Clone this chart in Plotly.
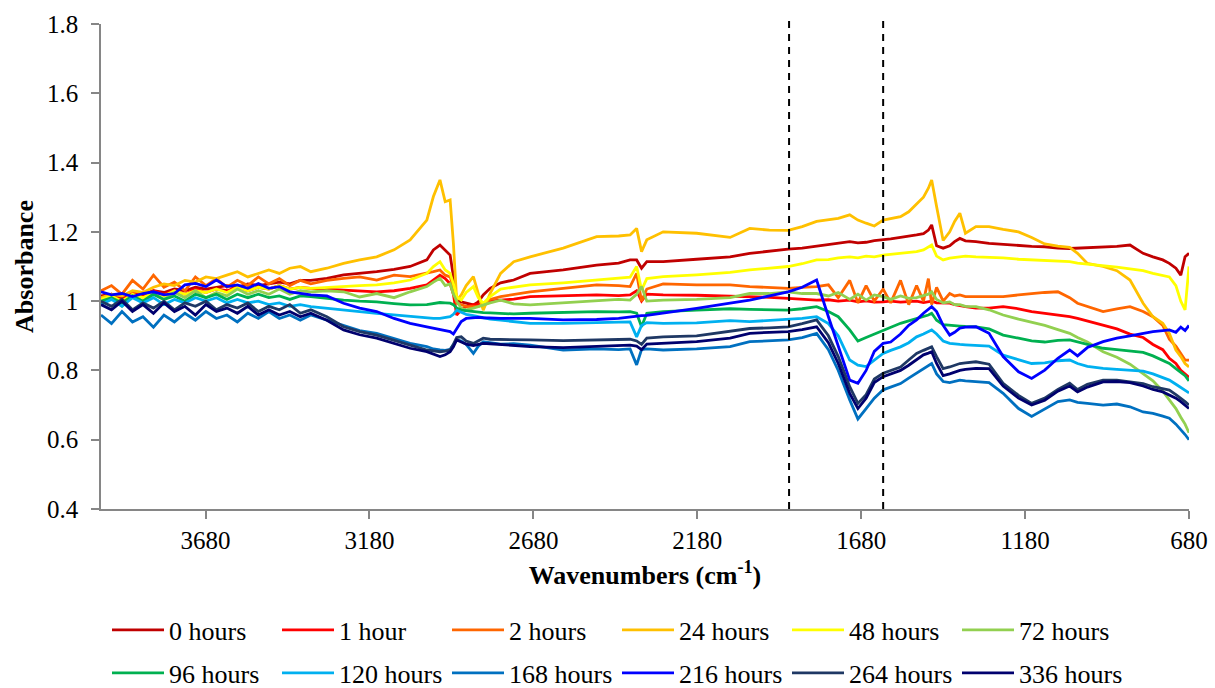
import plotly.graph_objects as go

# ---------------- data ----------------
wavenumbers = [
    3999, 3967, 3935, 3903, 3871, 3839, 3807, 3775, 3743, 3711, 3679, 3647, 3615, 3583, 3551, 3519, 3487, 3455, 3423, 3391, 3359,
    3310, 3259, 3210, 3158, 3105, 3056, 3005, 2985, 2965, 2949, 2934, 2924, 2914, 2900, 2885, 2863, 2848, 2833, 2812, 2780, 2740, 2690,
    2589, 2487, 2420, 2385, 2365, 2350, 2334, 2284, 2182, 2080, 2020,
    1960, 1903, 1860, 1816, 1780, 1750, 1715, 1690, 1665, 1640, 1613, 1590, 1560, 1535, 1511, 1490, 1475, 1465, 1450, 1430, 1410, 1395, 1379, 1362, 1330,
    1290, 1247, 1200, 1160, 1120, 1080, 1044, 1020, 990, 942, 900, 860, 820, 790, 760, 740, 720, 705, 692, 680,
]

series_names = ["0 hours", "1 hour", "2 hours", "24 hours", "48 hours", "72 hours",
                "96 hours", "120 hours", "168 hours", "216 hours", "264 hours", "336 hours"]

abs_0h = [
    1.015, 1.020, 1.010, 1.025, 1.020, 1.030, 1.025, 1.035, 1.030, 1.040, 1.035, 1.040, 1.045, 1.040, 1.050, 1.045, 1.050, 1.055, 1.050, 1.060, 1.060,
    1.066, 1.076, 1.080, 1.085, 1.092, 1.100, 1.119, 1.148, 1.162, 1.146, 1.133, 1.071, 1.003, 0.998, 0.994, 0.989, 0.998, 1.018, 1.037, 1.053, 1.061, 1.080,
    1.090, 1.104, 1.110, 1.119, 1.119, 1.095, 1.114, 1.114, 1.121, 1.128, 1.138,
    1.145, 1.150, 1.153, 1.159, 1.162, 1.166, 1.172, 1.168, 1.170, 1.175, 1.177, 1.180, 1.184, 1.187, 1.191, 1.195, 1.205, 1.220, 1.160, 1.153, 1.160, 1.172, 1.181, 1.174, 1.172,
    1.167, 1.164, 1.160, 1.158, 1.157, 1.153, 1.152, 1.153, 1.155, 1.155, 1.158, 1.162, 1.138, 1.128, 1.119, 1.109, 1.095, 1.075, 1.128, 1.138,
]
abs_1h = [
    1.010, 1.020, 1.005, 1.025, 1.015, 1.030, 1.020, 1.030, 1.020, 1.035, 1.025, 1.035, 1.030, 1.040, 1.030, 1.040, 1.035, 1.045, 1.035, 1.040, 1.037,
    1.035, 1.032, 1.030, 1.027, 1.030, 1.037, 1.047, 1.060, 1.075, 1.065, 1.050, 1.020, 0.960, 0.975, 0.984, 0.990, 0.990, 0.994, 1.000, 1.003, 1.006, 1.013,
    1.015, 1.018, 1.016, 1.018, 1.030, 1.000, 1.020, 1.018, 1.017, 1.015, 1.013,
    1.011, 1.008, 1.006, 1.003, 1.004, 1.000, 1.003, 0.998, 1.001, 0.997, 0.998, 1.000, 0.997, 0.999, 1.000, 0.996, 0.998, 1.000, 0.995, 0.994, 0.994, 0.990, 0.987, 0.984, 0.980,
    0.980, 0.984, 0.978, 0.970, 0.965, 0.960, 0.955, 0.950, 0.943, 0.931, 0.920, 0.905, 0.895, 0.875, 0.860, 0.835, 0.820, 0.800, 0.790, 0.780,
]
abs_2h = [
    1.030, 1.045, 1.020, 1.060, 1.035, 1.075, 1.040, 1.055, 1.030, 1.070, 1.045, 1.065, 1.040, 1.060, 1.045, 1.070, 1.050, 1.065, 1.045, 1.060, 1.050,
    1.060, 1.066, 1.070, 1.061, 1.075, 1.071, 1.080, 1.085, 1.090, 1.075, 1.070, 1.040, 0.994, 0.990, 0.985, 0.984, 0.985, 0.990, 1.005, 1.013, 1.020, 1.027,
    1.037, 1.047, 1.045, 1.042, 1.080, 1.000, 1.035, 1.050, 1.047, 1.047, 1.042,
    1.040, 1.037, 1.040, 1.042, 1.047, 1.010, 1.060, 0.995, 1.045, 1.000, 1.035, 0.995, 1.060, 0.990, 1.045, 1.000, 1.065, 0.990, 1.040, 1.000, 1.022, 1.015, 1.018, 1.013, 1.013,
    1.013, 1.013, 1.018, 1.022, 1.025, 1.027, 1.010, 0.994, 0.985, 0.970, 0.978, 0.984, 0.970, 0.955, 0.930, 0.890, 0.870, 0.850, 0.830, 0.830,
]
abs_24h = [
    1.010, 1.020, 1.015, 1.030, 1.025, 1.040, 1.050, 1.045, 1.060, 1.055, 1.070, 1.065, 1.075, 1.085, 1.070, 1.080, 1.090, 1.080, 1.095, 1.100, 1.085,
    1.095, 1.109, 1.119, 1.128, 1.148, 1.177, 1.234, 1.302, 1.350, 1.287, 1.292, 1.167, 1.003, 1.018, 1.045, 1.071, 1.022, 0.974, 1.022, 1.080, 1.114, 1.128,
    1.153, 1.186, 1.188, 1.191, 1.210, 1.143, 1.177, 1.200, 1.196, 1.184, 1.210,
    1.205, 1.204, 1.215, 1.230, 1.234, 1.239, 1.249, 1.234, 1.225, 1.217, 1.234, 1.239, 1.244, 1.258, 1.282, 1.300, 1.326, 1.350, 1.273, 1.175, 1.200, 1.230, 1.254, 1.196, 1.215,
    1.215, 1.207, 1.200, 1.184, 1.165, 1.159, 1.155, 1.138, 1.109, 1.100, 1.088, 1.061, 0.994, 0.955, 0.936, 0.907, 0.859, 0.840, 0.820, 0.810,
]
abs_48h = [
    1.005, 1.015, 1.000, 1.020, 1.010, 1.025, 1.015, 1.030, 1.020, 1.030, 1.025, 1.035, 1.025, 1.040, 1.030, 1.040, 1.035, 1.045, 1.035, 1.040, 1.037,
    1.040, 1.042, 1.045, 1.047, 1.053, 1.061, 1.080, 1.100, 1.114, 1.090, 1.080, 1.050, 1.013, 1.003, 1.025, 1.042, 1.010, 0.994, 1.013, 1.035, 1.040, 1.047,
    1.053, 1.061, 1.065, 1.069, 1.100, 1.032, 1.065, 1.071, 1.076, 1.083, 1.090,
    1.095, 1.100, 1.108, 1.119, 1.120, 1.125, 1.128, 1.125, 1.130, 1.128, 1.133, 1.135, 1.138, 1.140, 1.143, 1.148, 1.155, 1.162, 1.130, 1.119, 1.124, 1.126, 1.128, 1.130, 1.128,
    1.127, 1.125, 1.121, 1.119, 1.118, 1.116, 1.114, 1.110, 1.107, 1.104, 1.098, 1.093, 1.088, 1.080, 1.075, 1.070, 1.045, 1.000, 0.975, 1.100,
]
abs_72h = [
    0.990, 1.010, 0.985, 1.015, 1.000, 1.020, 1.005, 1.025, 1.010, 1.030, 1.010, 1.025, 1.015, 1.035, 1.020, 1.030, 1.020, 1.035, 1.020, 1.030, 1.027,
    1.030, 1.027, 1.012, 1.022, 1.010, 1.027, 1.042, 1.055, 1.066, 1.045, 1.050, 1.020, 1.000, 0.979, 0.975, 0.980, 0.985, 0.990, 0.995, 1.003, 0.992, 0.989,
    0.995, 0.999, 1.005, 1.003, 1.020, 1.042, 1.000, 1.003, 1.005, 1.010, 1.022,
    1.022, 1.027, 1.022, 1.022, 1.015, 1.025, 1.005, 1.020, 1.003, 1.018, 1.013, 1.005, 1.015, 1.008, 1.010, 1.015, 1.020, 1.027, 1.005, 0.995, 0.998, 0.990, 0.990, 0.985, 0.984,
    0.975, 0.960, 0.948, 0.940, 0.930, 0.918, 0.907, 0.895, 0.882, 0.854, 0.838, 0.818, 0.790, 0.770, 0.740, 0.715, 0.690, 0.665, 0.645, 0.620,
]
abs_96h = [
    1.000, 1.010, 0.995, 1.015, 1.000, 1.020, 1.005, 1.015, 1.000, 1.020, 1.010, 1.020, 1.005, 1.020, 1.010, 1.020, 1.010, 1.015, 1.005, 1.015, 1.013,
    1.008, 1.003, 1.000, 0.998, 0.993, 0.989, 0.990, 0.994, 0.996, 0.995, 0.994, 0.990, 0.980, 0.974, 0.972, 0.970, 0.968, 0.967, 0.966, 0.965, 0.963, 0.965,
    0.967, 0.970, 0.969, 0.970, 0.965, 0.926, 0.965, 0.970, 0.974, 0.978, 0.976,
    0.975, 0.974, 0.978, 0.984, 0.970, 0.955, 0.917, 0.885, 0.895, 0.905, 0.917, 0.926, 0.936, 0.943, 0.950, 0.955, 0.960, 0.965, 0.945, 0.932, 0.930, 0.928, 0.928, 0.927, 0.926,
    0.920, 0.902, 0.893, 0.885, 0.882, 0.887, 0.888, 0.882, 0.875, 0.864, 0.860, 0.856, 0.852, 0.842, 0.828, 0.820, 0.805, 0.795, 0.785, 0.770,
]
abs_120h = [
    0.990, 1.005, 0.985, 1.010, 0.995, 1.010, 0.990, 1.005, 0.995, 1.010, 1.000, 1.010, 0.995, 1.005, 0.995, 1.000, 0.990, 0.995, 0.985, 0.990, 0.984,
    0.980, 0.974, 0.970, 0.965, 0.960, 0.955, 0.952, 0.950, 0.950, 0.952, 0.955, 0.962, 0.974, 0.968, 0.962, 0.958, 0.955, 0.952, 0.948, 0.945, 0.941, 0.936,
    0.936, 0.938, 0.939, 0.940, 0.897, 0.930, 0.938, 0.936, 0.937, 0.944, 0.941,
    0.944, 0.946, 0.950, 0.955, 0.935, 0.900, 0.830, 0.815, 0.811, 0.830, 0.849, 0.858, 0.868, 0.880, 0.897, 0.905, 0.912, 0.917, 0.905, 0.885, 0.878, 0.876, 0.875, 0.874, 0.873,
    0.870, 0.844, 0.830, 0.820, 0.822, 0.828, 0.830, 0.820, 0.812, 0.806, 0.803, 0.800, 0.798, 0.790, 0.780, 0.772, 0.760, 0.750, 0.742, 0.735,
]
abs_168h = [
    0.960, 0.935, 0.970, 0.940, 0.955, 0.925, 0.960, 0.940, 0.965, 0.945, 0.970, 0.950, 0.960, 0.940, 0.965, 0.950, 0.970, 0.950, 0.960, 0.945, 0.960,
    0.945, 0.931, 0.915, 0.907, 0.893, 0.878, 0.869, 0.862, 0.859, 0.858, 0.861, 0.875, 0.888, 0.885, 0.875, 0.849, 0.870, 0.883, 0.880, 0.876, 0.877, 0.873,
    0.859, 0.862, 0.860, 0.862, 0.816, 0.860, 0.862, 0.859, 0.862, 0.869, 0.883,
    0.885, 0.888, 0.895, 0.907, 0.860, 0.800, 0.715, 0.660, 0.690, 0.720, 0.744, 0.752, 0.762, 0.778, 0.792, 0.805, 0.815, 0.820, 0.790, 0.768, 0.765, 0.768, 0.772, 0.770, 0.767,
    0.765, 0.734, 0.690, 0.667, 0.688, 0.710, 0.715, 0.708, 0.705, 0.700, 0.703, 0.695, 0.680, 0.676, 0.668, 0.662, 0.645, 0.630, 0.615, 0.600,
]
abs_216h = [
    1.027, 1.018, 1.022, 1.013, 1.022, 1.027, 1.018, 1.022, 1.047, 1.051, 1.042, 1.061, 1.042, 1.047, 1.037, 1.051, 1.037, 1.042, 1.027, 1.022, 1.018,
    1.015, 0.994, 0.980, 0.970, 0.950, 0.936, 0.926, 0.922, 0.918, 0.915, 0.912, 0.905, 0.920, 0.941, 0.950, 0.952, 0.953, 0.952, 0.951, 0.950, 0.950, 0.950,
    0.946, 0.947, 0.950, 0.955, 0.956, 0.958, 0.959, 0.965, 0.979, 0.994, 1.003,
    1.015, 1.027, 1.040, 1.061, 0.955, 0.868, 0.772, 0.763, 0.800, 0.855, 0.878, 0.882, 0.905, 0.930, 0.946, 0.965, 0.976, 0.984, 0.970, 0.930, 0.902, 0.910, 0.922, 0.925, 0.926,
    0.907, 0.840, 0.796, 0.777, 0.801, 0.835, 0.859, 0.842, 0.866, 0.883, 0.893, 0.900, 0.908, 0.912, 0.915, 0.917, 0.910, 0.925, 0.915, 0.930,
]
abs_264h = [
    1.000, 0.985, 1.005, 0.975, 0.995, 0.980, 1.000, 0.975, 0.995, 0.985, 1.000, 0.975, 0.990, 0.980, 0.995, 0.970, 0.985, 0.975, 0.990, 0.965, 0.975,
    0.955, 0.926, 0.912, 0.902, 0.888, 0.873, 0.859, 0.856, 0.854, 0.856, 0.859, 0.875, 0.895, 0.897, 0.885, 0.878, 0.885, 0.893, 0.890, 0.889, 0.888, 0.888,
    0.886, 0.888, 0.889, 0.890, 0.885, 0.875, 0.893, 0.897, 0.900, 0.912, 0.921,
    0.923, 0.926, 0.935, 0.946, 0.900, 0.840, 0.753, 0.705, 0.730, 0.775, 0.792, 0.800, 0.810, 0.830, 0.849, 0.858, 0.865, 0.868, 0.840, 0.805, 0.810, 0.815, 0.820, 0.822, 0.825,
    0.818, 0.763, 0.728, 0.705, 0.720, 0.745, 0.763, 0.745, 0.760, 0.772, 0.772, 0.768, 0.762, 0.753, 0.748, 0.743, 0.730, 0.720, 0.710, 0.700,
]
abs_336h = [
    0.990, 0.975, 1.000, 0.970, 0.990, 0.965, 0.995, 0.970, 0.985, 0.960, 0.990, 0.970, 0.980, 0.965, 0.985, 0.960, 0.975, 0.960, 0.970, 0.955, 0.965,
    0.945, 0.917, 0.903, 0.893, 0.878, 0.864, 0.854, 0.848, 0.840, 0.845, 0.854, 0.868, 0.888, 0.882, 0.876, 0.872, 0.876, 0.878, 0.877, 0.875, 0.873, 0.869,
    0.866, 0.869, 0.871, 0.873, 0.870, 0.860, 0.876, 0.878, 0.883, 0.893, 0.907,
    0.910, 0.912, 0.918, 0.926, 0.880, 0.820, 0.734, 0.690, 0.720, 0.765, 0.782, 0.790, 0.800, 0.815, 0.830, 0.845, 0.850, 0.854, 0.820, 0.785, 0.790, 0.795, 0.800, 0.803, 0.806,
    0.805, 0.755, 0.720, 0.700, 0.714, 0.740, 0.755, 0.738, 0.752, 0.767, 0.768, 0.765, 0.755, 0.745, 0.738, 0.730, 0.720, 0.710, 0.700, 0.690,
]

x_tick_values = [3680, 3180, 2680, 2180, 1680, 1180, 680]
y_tick_values = [0.4, 0.6, 0.8, 1.0, 1.2, 1.4, 1.6, 1.8]
y_tick_labels = ["0.4", "0.6", "0.8", "1", "1.2", "1.4", "1.6", "1.8"]
marker_wavenumbers = [1900, 1613]   # dashed reference lines

# ---------------- style ----------------
series_values = [abs_0h, abs_1h, abs_2h, abs_24h, abs_48h, abs_72h,
                 abs_96h, abs_120h, abs_168h, abs_216h, abs_264h, abs_336h]
colors = ["#C00000", "#FF0000", "#FF6600", "#FFC000", "#FFFF00", "#92D050",
          "#00B050", "#00B0F0", "#0070C0", "#0000FF", "#1F3864", "#00006E"]

for name, vals in zip(series_names, series_values):
    if len(vals) != len(wavenumbers):
        raise ValueError(f"{name}: {len(vals)} values vs {len(wavenumbers)} wavenumbers")

FONT = "Liberation Serif"
AXIS_GREY = "#868686"

fig = go.Figure()
for i, (name, vals, col) in enumerate(zip(series_names, series_values, colors)):
    fig.add_trace(go.Scatter(
        x=wavenumbers, y=vals, mode="lines", name=name,
        line=dict(color=col, width=2.8),
        legend="legend" if i < 6 else "legend2",
    ))

for wn in marker_wavenumbers:
    fig.add_shape(type="line", xref="x", yref="paper", x0=wn, x1=wn, y0=0, y1=1.017,
                  line=dict(color="black", width=2, dash="7px,6px"))

W, H = 1215, 688
L, R, T, B = 101, 26, 24, 179
plot_h = H - T - B
plot_w = W - L - R

def legend_cfg(row_center_px):
    return dict(
        orientation="h", xanchor="left", yanchor="middle",
        x=(107 - L) / plot_w, y=(H - B - row_center_px) / plot_h,
        entrywidth=103, entrywidthmode="pixels", itemwidth=52,
        font=dict(family=FONT, size=26, color="black"),
        bgcolor="rgba(0,0,0,0)", borderwidth=0,
    )

fig.update_layout(
    width=W, height=H,
    margin=dict(l=L, r=R, t=T, b=B, autoexpand=False),
    paper_bgcolor="white", plot_bgcolor="white",
    font=dict(family=FONT, size=25, color="black"),
    showlegend=True,
    legend=legend_cfg(630),
    legend2=legend_cfg(673),
    xaxis=dict(
        range=[3999, 680], tickvals=x_tick_values,
        ticks="outside", ticklen=8, tickwidth=1.5, tickcolor=AXIS_GREY,
        showline=True, linecolor=AXIS_GREY, linewidth=1.5,
        showgrid=False, zeroline=False,
        tickfont=dict(family=FONT, size=25, color="black"),
        title=dict(text="<b>Wavenumbers (cm<sup>-1</sup>)</b>",
                   font=dict(family=FONT, size=26, color="black"), standoff=13),
    ),
    yaxis=dict(
        range=[0.4, 1.8], tickvals=y_tick_values, ticktext=y_tick_labels,
        ticks="outside", ticklen=8, tickwidth=1.5, tickcolor=AXIS_GREY,
        showline=True, linecolor=AXIS_GREY, linewidth=1.5,
        showgrid=False, zeroline=False,
        tickfont=dict(family=FONT, size=25, color="black"),
        ticklabelstandoff=8,
        title=dict(text="<b>Absorbance</b>",
                   font=dict(family=FONT, size=26, color="black"), standoff=6),
    ),
)

fig.write_html("out.html")
